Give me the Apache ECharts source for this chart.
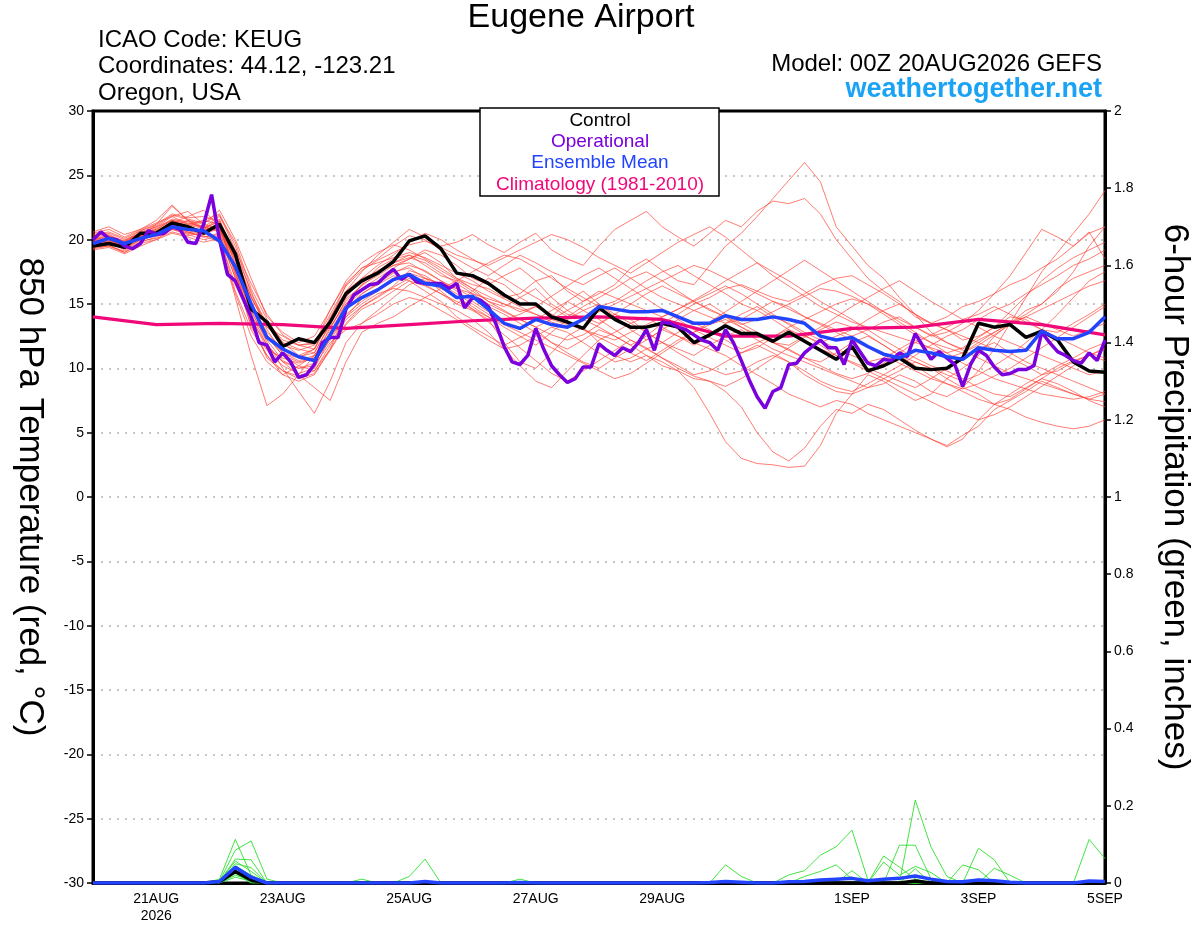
<!DOCTYPE html>
<html>
<head>
<meta charset="UTF-8">
<style>
html, body { margin: 0; padding: 0; background: #fff; }
#main { width: 1200px; height: 927px; }
</style>
</head>
<body>
<div id="main"></div>
<script src="https://cdn.jsdelivr.net/npm/echarts@6/dist/echarts.min.js"></script>
<script type="text/javascript">
// forecast hours: ensemble every 6 h, operational every 3 h, climatology daily
var ensStep = 6, opStep = 3, climStep = 24;

var tickHours = [24, 72, 120, 168, 216, 288, 336, 384];
var tickLabels = ['21AUG\n2026', '23AUG', '25AUG', '27AUG', '29AUG', '1SEP', '3SEP', '5SEP'];

// 850 hPa temperature (C)
var control = [19.5,19.7,19.4,20.5,20.5,21.3,21.0,20.5,21.2,18.9, 14.6,13.6,11.7,12.3,12.0,13.6,15.8,16.8,17.4,18.3,
  19.9,20.3,19.3,17.4,17.2,16.6,15.7,15.0,15.0,14.0, 13.6,13.1,14.7,13.8,13.2,13.2,13.5,13.2,12.0,12.6,
  13.3,12.7,12.7,12.1,12.8,12.1,11.4,10.7,11.7,9.8, 10.2,10.8,10.0,9.9,10.0,10.8,13.5,13.2,13.4,12.4,
  12.9,12.2,10.5,9.8,9.7];
var ensMean = [19.7,20.1,19.7,20.1,20.4,21.0,20.8,20.7,19.9,17.9, 15.0,12.4,11.5,10.9,10.6,12.6,14.7,15.5,16.1,16.9,
  17.3,16.6,16.4,15.5,15.6,14.6,13.5,13.1,13.8,13.4, 13.2,13.8,14.8,14.6,14.4,14.4,14.5,14.0,13.5,13.5,
  14.1,13.8,13.8,14.0,13.8,13.5,12.5,12.2,12.4,11.7, 11.1,10.8,11.4,11.2,10.9,10.7,11.6,11.4,11.3,11.4,
  12.9,12.3,12.3,12.8,14.0];
var operational = [20.0,20.6,20.1,20.0,19.5,19.3,19.7,20.7,20.4,20.5, 21.0,20.8,19.8,19.7,21.2,23.5,20.0,17.3,16.8,15.4,
  14.0,12.0,11.8,10.5,11.2,10.5,9.3,9.5,10.3,12.0, 12.4,12.4,14.6,15.7,16.1,16.5,16.6,17.2,17.7,16.9,
  17.3,16.7,16.6,16.6,16.6,16.2,16.6,14.7,15.5,15.3, 14.8,13.4,11.7,10.5,10.3,11.0,13.1,11.5,10.2,9.5,
  8.9,9.2,10.1,10.1,11.9,11.4,11.0,11.6,11.3,12.0, 13.0,11.4,13.6,13.5,13.2,13.0,12.6,12.2,12.0,11.4,
  13.0,12.0,10.6,9.1,7.8,6.9,8.2,8.5,10.3,10.4, 11.2,11.7,12.2,11.6,11.6,10.3,12.2,11.3,10.4,10.2,
  10.7,10.6,11.2,10.9,12.7,11.7,10.7,11.3,10.8,10.3, 8.6,10.3,11.4,11.0,10.1,9.5,9.6,9.9,9.9,10.2,
  12.8,12.0,11.3,11.0,10.6,10.4,11.2,10.6,12.2];
var climatology = [14.0,13.4,13.5,13.4,13.1,13.4,13.7,13.9,14.0,13.8,12.5,12.5,13.1,13.2,13.8,13.4,12.6];

// ensemble members
var m01 = [20.2,20.4,19.8,20.6,21.0,21.8,21.2,21.0,20.6, 17.5,14.0,11.5,10.8,10.4,10.8,12.8,15.0, 16.2,17.0,17.8,18.5,19.0,18.2,
  17.0,16.5,16.2,15.5,15.8,16.8,17.2,16.0, 15.2,15.8,16.5,17.8,18.5,17.6,16.8,16.5, 18.0,19.5,20.5,21.8,23.2,24.6,26.0,24.5,21.0,
  19.5,18.0,17.0,15.5,14.2,12.8,12.0,11.5, 12.2,12.8,13.5,14.5,15.0,16.2,17.0,17.5,18.0];
var m02 = [19.8,20.0,19.6,20.2,21.2,22.6,21.5,21.0,21.8, 19.8,16.2,13.8,12.0,11.5,11.2,13.5,16.0, 17.5,18.8,19.8,20.8,20.2,19.5,
  19.8,20.4,19.6,19.0,19.8,20.5,19.2,18.5, 18.0,19.5,20.8,21.5,22.2,21.0,20.2,19.5, 20.5,21.5,21.0,22.2,23.0,22.8,23.2,22.0,20.0,
  18.5,17.0,16.0,15.2,14.0,13.5,13.0,12.2, 12.5,13.2,14.0,13.8,13.0,12.8,13.5,14.2,15.0];
var m03 = [19.6,19.8,19.2,20.0,20.3,21.0,20.6,20.2,20.5, 17.0,14.0,12.5,11.0,10.2,9.8,11.5,14.5, 15.8,16.5,17.2,16.8,16.0,15.2,
  14.0,13.2,12.5,11.8,12.4,13.0,12.0,11.5, 12.2,13.0,12.5,11.8,11.0,10.2,9.8,8.5, 6.5,4.3,3.0,2.6,2.5,2.3,2.4,4.0,6.5,
  8.0,9.5,9.0,8.2,7.5,8.0,9.2,10.0, 11.0,12.5,13.5,14.2,15.0,16.0,17.5,19.5,21.0];
var m04 = [19.4,19.6,19.0,19.8,20.2,20.8,20.4,20.0,20.3, 16.0,13.0,11.0,9.5,9.0,9.5,11.5,13.5, 14.8,15.5,16.3,17.0,16.5,15.8,
  15.0,14.5,13.8,12.0,10.5,10.0,11.2,12.5, 13.2,12.0,11.0,10.5,11.0,10.5,9.8,9.2, 9.0,8.2,7.0,5.0,3.5,2.8,3.8,5.5,6.8,
  6.5,7.2,6.8,6.0,5.2,4.5,4.0,4.8, 5.5,6.8,7.5,8.2,9.0,8.5,8.0,7.6,8.0];
var m05 = [20.0,20.3,19.8,20.4,20.8,21.5,21.2,21.5,22.0, 19.5,15.8,13.5,12.2,11.8,12.0,13.2,15.0, 16.5,17.8,18.5,18.8,18.0,17.2,
  16.8,16.0,15.2,14.8,15.5,16.2,15.0,14.2, 14.0,13.5,14.2,13.8,12.8,12.0,11.5,11.0, 11.8,12.5,13.0,12.2,11.5,11.0,10.5,10.0,9.5,
  9.0,8.5,8.8,9.5,9.0,8.2,7.8,8.5, 9.8,11.5,13.5,15.5,17.5,19.0,20.5,22.0,23.8];
var m06 = [19.9,20.1,19.7,20.3,20.6,21.3,21.8,22.3,21.0, 18.2,15.0,12.8,11.5,11.0,11.5,13.8,16.5, 17.8,18.5,19.5,20.3,20.0,19.2,
  18.5,17.8,17.2,18.0,18.8,18.2,17.5,17.0, 16.5,17.2,17.8,17.0,16.2,15.5,15.0,14.5, 14.0,13.5,13.8,14.5,15.2,14.8,14.0,13.5,13.0,
  12.5,13.0,13.6,14.0,13.2,12.5,12.8,13.5, 14.5,15.8,17.2,19.0,20.8,20.2,19.5,20.6,18.5];
var m07 = [19.3,19.5,19.0,19.7,20.0,20.5,20.2,19.8,20.1, 16.5,13.8,11.8,10.5,10.0,10.2,12.0,13.0, 13.5,14.2,15.0,15.5,15.2,14.5,
  13.8,13.0,12.2,11.5,11.8,12.5,13.2,12.8, 12.0,11.2,10.5,10.8,11.5,12.0,11.2,10.5, 10.0,9.5,9.8,10.5,11.0,10.5,9.5,8.8,8.2,
  8.0,8.5,9.2,9.8,10.5,10.0,9.2,8.5, 8.0,7.2,6.8,6.2,5.8,5.5,5.3,5.5,6.0];
var m08 = [20.5,20.8,20.2,20.8,21.5,22.7,21.5,20.8,21.0, 18.5,15.5,13.2,12.0,11.0,10.5,12.2,14.0, 15.0,15.8,16.2,16.0,15.5,15.0,
  14.5,13.8,12.8,11.5,10.2,9.0,8.5,9.8, 11.0,12.2,12.8,13.5,14.0,13.2,12.5,12.0, 11.5,11.0,10.2,9.5,8.8,8.0,7.5,7.0,7.5,
  7.2,6.5,6.0,5.5,5.0,4.5,3.9,4.5, 6.0,7.2,8.0,8.8,9.5,10.2,10.8,11.5,12.0];
var m09 = [19.7,19.9,19.5,20.3,20.7,21.2,20.8,20.5,20.0, 15.5,11.0,7.1,8.0,9.5,11.0,12.5,14.2, 15.2,16.0,16.8,17.2,16.8,16.2,
  15.5,14.8,14.0,13.2,12.5,11.8,12.8,13.8, 14.5,15.0,14.2,13.5,12.8,12.0,12.8,13.5, 13.0,12.2,11.5,12.0,12.5,13.0,12.2,11.5,11.0,
  10.5,10.0,9.5,9.0,8.5,9.2,10.0,10.8, 11.5,12.0,11.2,10.5,10.0,9.5,9.0,8.5,8.0];
var m10 = [19.8,20.0,19.4,20.1,20.5,21.0,20.5,20.8,21.5, 18.0,14.5,12.0,10.0,8.2,6.5,9.0,12.0, 13.5,14.5,15.5,16.5,17.0,16.0,
  15.0,16.0,17.0,16.5,15.5,14.8,14.0,15.2, 16.0,15.0,14.0,13.0,12.2,13.0,13.8,14.5, 15.0,14.2,13.5,12.8,12.0,11.5,10.8,10.5,11.2,
  12.0,12.5,11.8,11.0,10.5,10.0,9.5,9.0, 9.5,10.2,11.0,12.0,13.0,14.2,15.5,16.8,17.5];
var m11 = [19.5,19.7,19.3,20.0,20.4,21.0,21.5,21.2,20.8, 17.8,14.2,11.8,10.5,9.5,8.5,7.5,10.5, 12.8,13.5,14.0,14.8,15.5,16.2,
  16.8,17.5,18.2,18.8,18.5,17.8,17.0,16.2, 15.5,14.8,15.2,16.0,16.8,17.5,18.0,17.2, 16.5,15.8,15.0,14.5,13.8,13.0,12.5,12.0,12.5,
  13.0,13.8,14.5,15.0,14.2,13.5,13.0,12.5, 12.0,12.8,13.5,14.0,13.5,13.0,12.5,13.0,13.5];
var m12 = [20.3,20.5,20.0,20.5,21.0,21.5,21.0,21.5,21.2, 19.0,16.0,13.0,11.2,10.8,11.5,14.0,16.0, 17.0,17.5,18.0,18.5,19.2,18.8,
  18.0,17.0,16.5,17.2,17.8,16.8,15.5,14.5, 13.8,13.2,12.5,11.8,12.5,13.5,14.2,15.0, 15.5,16.2,16.5,16.0,15.5,15.2,15.8,16.5,17.0,
  17.2,16.5,15.8,15.0,14.2,13.5,14.0,14.8, 15.2,15.8,16.5,17.0,17.8,18.5,19.5,20.5,21.0];
var m13 = [19.6,19.8,19.5,20.2,20.6,21.2,21.0,20.7,21.3, 17.2,14.8,12.5,11.0,10.5,10.8,13.2,15.2, 16.5,17.2,18.0,18.2,17.5,16.8,
  16.2,15.5,14.8,14.2,13.5,12.8,12.0,11.2, 10.5,10.0,10.8,11.5,12.2,13.0,12.5,11.8, 12.5,13.5,14.2,14.8,14.0,13.5,12.8,12.2,11.5,
  11.0,10.5,10.8,11.5,12.2,11.5,10.8,11.2, 12.0,11.5,10.8,10.2,9.5,9.8,10.5,11.0,11.5];
var m14 = [20.0,20.2,19.9,20.5,20.8,21.5,21.3,21.0,20.7, 18.5,15.5,13.2,12.5,11.8,11.5,13.8,15.5, 17.0,18.0,18.8,19.8,20.5,20.0,
  19.2,18.5,17.8,17.0,16.2,15.5,14.8,14.0, 14.8,15.5,16.2,17.0,17.5,16.8,16.0,15.2, 14.5,14.0,13.2,12.5,12.0,11.8,12.5,13.2,14.0,
  14.8,15.5,16.2,16.8,16.0,15.2,14.5,13.8, 13.2,12.5,12.0,11.5,11.0,10.5,10.0,9.5,9.8];
var m15 = [19.2,19.4,18.9,19.5,20.0,20.8,20.5,20.3,19.8, 15.8,12.5,10.5,9.5,10.2,11.0,12.5,14.8, 16.0,16.8,17.5,17.8,17.0,16.5,
  15.8,15.0,14.2,13.5,13.0,13.8,14.5,15.2, 14.5,13.8,13.0,12.2,11.5,10.8,10.2,9.5, 9.8,10.5,11.2,11.8,11.2,10.5,9.8,9.0,8.5,
  8.2,8.8,9.5,10.2,11.0,11.8,12.5,13.0, 13.8,14.5,15.0,15.8,16.5,17.2,18.0,18.5,19.2];
var m16 = [20.6,21.0,20.4,20.8,21.3,21.8,22.2,21.2,22.3, 20.0,17.0,14.0,12.8,12.0,12.5,14.5,16.8, 18.2,19.0,19.6,19.2,18.5,17.8,
  17.0,16.2,15.2,14.5,13.8,13.2,13.8,14.5, 15.2,16.0,15.5,15.0,14.5,14.0,14.6,15.3, 16.0,16.8,17.5,18.2,17.5,16.8,16.0,15.2,14.5,
  13.8,13.0,12.2,11.5,10.8,10.2,9.8,9.2, 8.5,8.0,7.8,8.5,9.2,8.8,8.2,7.5,7.0];
var m17 = [19.7,19.9,19.6,20.4,20.9,21.6,21.4,20.9,21.6, 18.6,15.2,12.6,11.4,10.9,11.2,13.4,15.6, 16.8,17.6,18.2,18.8,18.4,17.6,
  16.9,16.2,15.6,15.0,14.4,14.8,15.6,16.4, 17.2,17.8,17.0,16.2,15.4,14.6,13.8,13.0, 12.4,11.8,11.2,11.6,12.4,13.2,13.8,14.4,15.0,
  15.4,15.0,14.2,13.4,12.6,12.0,11.6,11.2, 11.8,12.6,13.4,14.0,14.6,15.2,15.8,16.4,16.8];
var m18 = [19.4,19.5,19.1,19.9,20.1,20.6,20.3,20.6,21.0, 17.6,13.6,10.8,9.8,9.4,9.8,11.8,13.8, 14.8,15.6,16.4,17.6,17.2,16.4,
  15.6,14.6,13.6,12.6,11.6,10.6,9.6,9.0, 9.8,10.6,11.4,12.2,11.6,10.8,10.0,9.4, 9.0,8.6,9.2,10.0,10.8,11.6,12.4,13.0,13.6,
  13.2,12.6,11.8,11.0,10.2,9.4,8.8,8.2, 7.6,7.2,7.6,8.4,9.2,10.0,10.6,11.0,10.6];
var m19 = [20.1,20.3,19.9,20.7,21.1,21.9,21.6,21.3,21.9, 19.2,16.6,14.2,12.6,11.8,11.9,14.2,16.4, 17.6,18.4,19.0,19.6,19.9,19.4,
  18.8,18.4,18.0,18.6,19.2,19.8,20.4,20.0, 19.4,18.6,18.0,17.4,18.2,19.0,19.8,20.4, 21.0,20.2,19.2,18.2,17.2,16.4,15.6,14.8,14.2,
  13.6,13.2,12.8,12.4,12.0,11.6,11.2,11.6, 12.4,13.2,14.4,15.6,16.8,17.8,18.6,19.2,19.8];
var m20 = [19.9,20.0,19.6,20.3,20.4,21.1,20.9,20.6,21.0, 17.8,14.4,12.2,10.6,10.0,10.4,12.6,14.6, 15.8,16.6,17.4,18.0,17.6,16.8,
  16.0,15.2,14.4,13.8,14.2,14.8,14.2,13.6, 13.0,12.4,11.8,11.2,10.6,11.4,12.2,12.8, 13.4,13.8,13.2,12.6,12.0,11.4,10.8,10.2,9.6,
  9.2,9.6,10.4,11.2,12.0,12.6,13.2,13.8, 14.2,14.8,14.2,13.6,13.0,12.4,11.8,11.2,10.8];
var m21 = [20.4,20.6,20.1,20.7,21.2,22.0,21.7,21.8,21.4, 18.8,15.6,13.4,11.8,11.4,11.8,14.6,16.6, 17.8,18.2,18.6,19.0,18.6,18.0,
  17.4,16.8,16.0,15.4,14.8,14.2,13.6,13.2, 13.8,14.4,15.0,15.6,16.2,16.8,17.4,18.0, 17.6,17.0,16.4,15.8,15.2,14.6,14.0,13.4,12.8,
  12.2,11.6,11.0,10.4,9.8,9.2,8.8,8.4, 8.8,9.4,10.0,10.8,11.6,12.4,13.2,14.0,14.8];
var m22 = [19.6,19.7,19.3,20.1,20.5,21.0,20.7,20.4,20.9, 17.4,13.2,11.4,10.2,9.6,10.0,12.4,14.0, 15.4,16.2,17.0,17.4,17.0,16.6,
  16.2,15.8,15.4,15.0,14.6,14.2,13.8,13.4, 13.0,12.6,12.2,12.8,13.4,14.0,14.6,15.2, 15.8,16.4,15.8,15.0,14.2,13.4,12.6,11.8,11.0,
  10.4,9.8,9.2,8.6,8.0,7.4,6.8,6.4, 6.0,6.4,7.0,7.8,8.6,9.4,10.2,11.0,11.6];
var m23 = [20.0,20.1,19.8,20.5,20.7,21.4,21.1,20.9,21.4, 18.4,15.0,12.6,11.2,10.6,11.0,13.0,15.4, 16.4,17.4,18.2,18.6,18.2,17.4,
  16.6,15.8,15.0,14.4,13.8,13.2,12.6,12.2, 12.6,13.4,14.2,15.0,15.8,16.4,15.8,15.2, 14.6,14.0,13.4,13.8,14.4,15.0,15.6,16.2,16.0,
  15.6,15.0,14.4,13.8,13.2,12.6,12.0,11.4, 10.8,10.2,9.6,9.2,8.8,8.4,8.0,7.6,7.4];
var m24 = [19.5,19.8,19.5,20.2,20.6,21.1,20.6,20.2,20.4, 17.0,13.4,11.0,9.8,9.2,9.6,11.4,13.4, 14.6,15.2,16.0,16.8,16.4,15.8,
  15.2,14.6,14.0,13.4,12.8,12.2,11.6,11.0, 10.4,9.8,9.2,9.6,10.4,11.2,12.0,12.8, 13.6,14.4,15.2,16.0,16.8,17.6,18.4,17.6,16.8,
  16.0,15.2,14.4,13.6,12.8,12.0,11.2,10.4, 9.8,9.2,8.8,8.4,8.0,7.8,7.6,7.8,8.2];
var members = [m01, m02, m03, m04, m05, m06, m07, m08, m09, m10, m11, m12,
               m13, m14, m15, m16, m17, m18, m19, m20, m21, m22, m23, m24];

// 6-hour precipitation (inches)
var pMean = [0,0,0,0,0,0,0,0,0.004,0.041, 0.015,0,0,0,0,0,0,0,0,0, 0,0.004,0,0,0,0,0,0.001,0,0,
  0,0,0,0,0,0,0,0,0,0.001, 0.004,0.002,0,0,0.003,0.004,0.008,0.01,0.012,0.006, 0.01,0.012,0.018,0.01,0.004,0.003,0.008,0.006,0.002,0,
  0,0,0,0.005,0.004];
var pControl = [0,0,0,0,0,0,0,0,0.003,0.03, 0.008,0,0,0,0,0,0,0,0,0, 0,0,0,0,0,0,0,0,0,0,
  0,0,0,0,0,0,0,0,0,0, 0,0,0,0,0,0,0,0,0,0, 0,0,0.005,0,0,0,0,0,0,0, 0,0,0,0,0];
var p01 = [0,0,0,0,0,0,0,0,0.01,0.113, 0.02,0,0,0,0,0,0,0,0,0, 0,0,0,0,0,0,0,0,0,0,
  0,0,0,0,0,0,0,0,0,0, 0,0,0,0,0.021,0.032,0.072,0.094,0.137,0.008, 0,0,0,0,0,0,0,0,0,0, 0,0,0,0,0];
var p02 = [0,0,0,0,0,0,0,0,0.005,0.085, 0.109,0.01,0,0,0,0,0,0,0,0, 0,0,0,0,0,0,0,0,0,0,
  0,0,0,0,0,0,0,0,0,0, 0,0,0,0,0,0,0,0,0,0, 0,0.098,0.098,0.01,0,0,0,0,0,0, 0,0,0,0,0];
var p03 = [0,0,0,0,0,0,0,0,0.004,0.062, 0.06,0,0,0,0,0,0,0,0,0, 0,0,0,0,0,0,0,0,0,0,
  0,0,0,0,0,0,0,0,0,0, 0,0,0,0,0,0,0,0,0,0, 0,0,0.215,0.093,0.017,0,0,0,0,0, 0,0,0,0,0];
var p04 = [0,0,0,0,0,0,0,0,0.003,0.057, 0.03,0,0,0,0,0,0,0,0,0, 0.017,0.062,0,0,0,0,0,0,0,0,
  0,0,0,0,0,0,0,0,0,0, 0,0,0,0,0,0,0,0,0,0, 0,0,0,0,0,0,0,0,0,0, 0,0,0,0.113,0.063];
var p05 = [0,0,0,0,0,0,0,0,0.002,0.05, 0.04,0,0,0,0,0,0,0,0,0, 0,0,0,0,0,0,0,0,0,0,
  0,0,0,0,0,0,0,0,0,0, 0.047,0.017,0,0,0,0,0,0,0,0, 0,0,0,0,0,0,0,0,0,0, 0,0,0,0,0];
var p06 = [0,0,0,0,0,0,0,0,0,0.045, 0.02,0,0,0,0,0,0,0,0,0, 0,0,0,0,0,0,0,0,0,0,
  0,0,0,0,0,0,0,0,0,0, 0,0,0,0,0,0.017,0.03,0.047,0.01,0, 0,0,0,0,0,0,0.09,0.06,0,0, 0,0,0,0,0];
var p07 = [0,0,0,0,0,0,0,0,0,0.04, 0.012,0,0,0,0,0,0,0,0,0, 0,0,0,0,0,0,0,0,0,0,
  0,0,0,0,0,0,0,0,0,0, 0,0,0,0,0,0,0,0,0.032,0, 0.07,0.041,0.01,0,0,0,0,0,0,0, 0,0,0,0,0];
var p08 = [0,0,0,0,0,0,0,0,0,0.035, 0.01,0,0,0,0,0,0,0,0,0, 0,0,0,0,0,0,0,0,0,0,
  0,0,0,0,0,0,0,0,0,0, 0,0,0,0,0,0,0,0,0,0, 0.054,0.02,0.043,0.027,0,0.047,0.034,0,0,0, 0,0,0,0,0];
var p09 = [0,0,0,0,0,0,0,0,0,0.03, 0,0,0,0,0,0,0,0,0,0, 0,0,0,0,0,0,0,0,0,0,
  0,0,0,0,0,0,0,0,0,0, 0,0,0,0,0,0,0,0,0,0, 0,0,0,0,0,0,0,0.038,0.02,0, 0,0,0,0,0];
var p10 = [0,0,0,0,0,0,0,0,0,0.025, 0,0,0,0,0,0,0,0.01,0,0, 0,0,0,0,0,0,0,0.01,0,0,
  0,0,0,0,0,0,0,0,0,0, 0,0,0,0,0,0,0,0,0,0, 0,0,0,0,0,0,0,0,0,0, 0,0,0,0,0];
var p11 = [0,0,0,0,0,0,0,0,0,0.02, 0.008,0,0,0,0,0,0,0,0,0, 0,0,0,0,0,0,0,0,0,0,
  0,0,0,0,0,0,0,0,0,0, 0,0,0,0,0,0,0,0,0,0, 0,0,0.037,0,0,0,0,0,0,0, 0,0,0,0,0];
var p12 = [0,0,0,0,0,0,0,0,0,0.015, 0.005,0,0,0,0,0,0,0,0,0, 0,0,0,0,0,0,0,0,0,0,
  0,0,0,0,0,0,0,0,0,0, 0,0,0,0,0,0,0,0,0,0, 0,0,0,0,0,0,0,0,0,0, 0,0,0,0,0];
var precipMembers = [p01, p02, p03, p04, p05, p06, p07, p08, p09, p10, p11, p12];

var FONT = '"Liberation Sans", Arial, Helvetica, sans-serif';

function toXY(arr, step) {
	return arr.map(function (v, i) { return [i * step, v]; });
}

var myChart = echarts.init(document.getElementById('main'));

var series = [];
members.forEach(function (m, i) {
	series.push({
		name: 'member' + (i + 1), type: 'line', yAxisIndex: 0,
		data: toXY(m, ensStep), symbol: 'none', silent: true,
		lineStyle: { color: '#ff3b30', width: 0.9, opacity: 0.75 }
	});
});
precipMembers.forEach(function (p, i) {
	series.push({
		name: 'precip' + (i + 1), type: 'line', yAxisIndex: 1,
		data: toXY(p, ensStep), symbol: 'none', silent: true,
		lineStyle: { color: '#2ee02e', width: 0.9 }
	});
});
series.push({
	name: 'Climatology', type: 'line', yAxisIndex: 0, data: toXY(climatology, climStep),
	symbol: 'none', lineStyle: { color: '#f0087a', width: 3.2 }
});
series.push({
	name: 'Control precip', type: 'line', yAxisIndex: 1, data: toXY(pControl, ensStep),
	symbol: 'none', lineStyle: { color: '#000', width: 3.5 }
});
series.push({
	name: 'Mean precip', type: 'line', yAxisIndex: 1, data: toXY(pMean, ensStep),
	symbol: 'none', lineStyle: { color: '#2244ff', width: 3.5 }
});
series.push({
	name: 'Control', type: 'line', yAxisIndex: 0, data: toXY(control, ensStep),
	symbol: 'none', lineStyle: { color: '#000', width: 3.5 }
});
series.push({
	name: 'Operational', type: 'line', yAxisIndex: 0, data: toXY(operational, opStep),
	symbol: 'none', lineStyle: { color: '#7a00dd', width: 3.5 }
});
series.push({
	name: 'Ensemble Mean', type: 'line', yAxisIndex: 0, data: toXY(ensMean, ensStep),
	symbol: 'none', lineStyle: { color: '#2244ff', width: 3.5 }
});

var option = {
	backgroundColor: '#fff',
	animation: false,
	textStyle: { fontFamily: FONT },
	grid: {
		left: 93, right: 95, top: 111, bottom: 44,
		outerBoundsMode: 'none', containLabel: false,
		show: true, borderColor: '#000', borderWidth: 3
	},
	xAxis: {
		type: 'value', min: 0, max: 384, interval: 24,
		axisLine: { show: true, onZero: false, lineStyle: { color: '#000', width: 3 } },
		axisTick: { show: false },
		splitLine: { show: false },
		axisLabel: {
			color: '#000', fontSize: 14, fontFamily: FONT, margin: 8, lineHeight: 17,
			showMinLabel: true, showMaxLabel: true,
			formatter: function (v) {
				var i = tickHours.indexOf(v);
				return i >= 0 ? tickLabels[i] : '';
			}
		}
	},
	yAxis: [{
		type: 'value', min: -30, max: 30, interval: 5, position: 'left',
		name: '850 hPa Temperature (red, °C)', nameLocation: 'middle', nameGap: 46, nameRotate: -90,
		nameTextStyle: { color: '#000', fontSize: 35, fontFamily: FONT },
		axisLine: { show: true, onZero: false, lineStyle: { color: '#000', width: 3 } },
		axisTick: { show: true, length: 6, lineStyle: { color: '#000', width: 1.5 } },
		axisLabel: { color: '#000', fontSize: 14, fontFamily: FONT, margin: 9 },
		splitLine: { show: true, showMinLine: false, showMaxLine: false,
			lineStyle: { color: '#b4b4b4', width: 1.5, type: [2, 6] } }
	}, {
		type: 'value', min: 0, max: 2, interval: 0.2, position: 'right',
		name: '6-hour Precipitation (green, inches)', nameLocation: 'middle', nameGap: 52, nameRotate: -90,
		nameTextStyle: { color: '#000', fontSize: 35, fontFamily: FONT },
		axisLine: { show: true, onZero: false, lineStyle: { color: '#000', width: 3 } },
		axisTick: { show: true, length: 6, lineStyle: { color: '#000', width: 1.5 } },
		axisLabel: { color: '#000', fontSize: 14, fontFamily: FONT, margin: 9 },
		splitLine: { show: false }
	}],
	graphic: [
		{ type: 'text', x: 581, y: 18, z: 100,
		  style: { text: 'Eugene Airport', align: 'center', verticalAlign: 'middle', fontSize: 34, fontFamily: FONT, fill: '#000' } },
		{ type: 'text', x: 98, y: 40, z: 100,
		  style: { text: 'ICAO Code: KEUG', align: 'left', verticalAlign: 'middle', fontSize: 24, fontFamily: FONT, fill: '#000' } },
		{ type: 'text', x: 98, y: 66, z: 100,
		  style: { text: 'Coordinates: 44.12, -123.21', align: 'left', verticalAlign: 'middle', fontSize: 24, fontFamily: FONT, fill: '#000' } },
		{ type: 'text', x: 98, y: 93, z: 100,
		  style: { text: 'Oregon, USA', align: 'left', verticalAlign: 'middle', fontSize: 24, fontFamily: FONT, fill: '#000' } },
		{ type: 'text', x: 1102, y: 64, z: 100,
		  style: { text: 'Model: 00Z 20AUG2026 GEFS', align: 'right', verticalAlign: 'middle', fontSize: 24, fontFamily: FONT, fill: '#000' } },
		{ type: 'text', x: 1102, y: 90, z: 100,
		  style: { text: 'weathertogether.net', align: 'right', verticalAlign: 'middle', fontSize: 27, fontWeight: 'bold', fontFamily: FONT, fill: '#1aa3f5' } },
		{ type: 'rect', z: 100, shape: { x: 480, y: 108, width: 239, height: 88 },
		  style: { fill: '#fff', stroke: '#000', lineWidth: 1.5 } },
		{ type: 'text', x: 600, y: 121, z: 101,
		  style: { text: 'Control', align: 'center', verticalAlign: 'middle', fontSize: 19, fontFamily: FONT, fill: '#000' } },
		{ type: 'text', x: 600, y: 142, z: 101,
		  style: { text: 'Operational', align: 'center', verticalAlign: 'middle', fontSize: 19, fontFamily: FONT, fill: '#7a00dd' } },
		{ type: 'text', x: 600, y: 163, z: 101,
		  style: { text: 'Ensemble Mean', align: 'center', verticalAlign: 'middle', fontSize: 19, fontFamily: FONT, fill: '#2244ff' } },
		{ type: 'text', x: 600, y: 185, z: 101,
		  style: { text: 'Climatology (1981-2010)', align: 'center', verticalAlign: 'middle', fontSize: 19, fontFamily: FONT, fill: '#f0087a' } }
	],
	series: series
};

myChart.setOption(option);
</script>
</body>
</html>
